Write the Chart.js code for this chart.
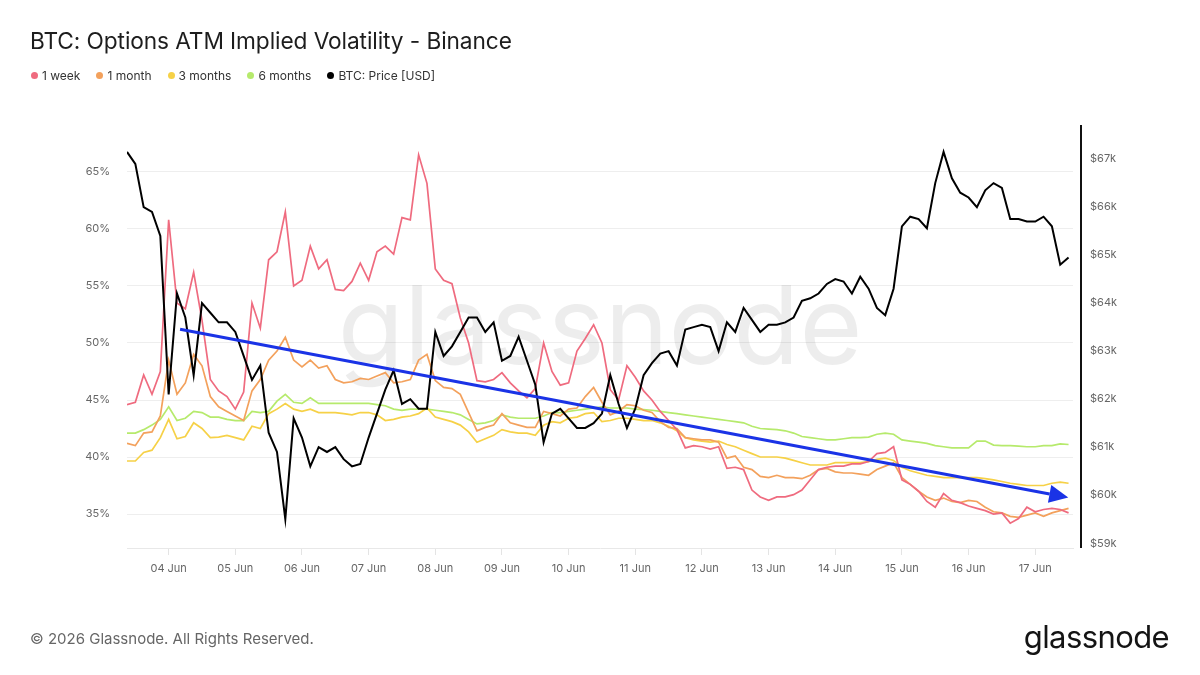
<!DOCTYPE html>
<html>
<head>
<meta charset="utf-8">
<script src="https://cdn.jsdelivr.net/npm/chart.js@4.4.1/dist/chart.umd.min.js"></script>
<style>
  html, body { margin: 0; padding: 0; background: #fff; }
  body { width: 1200px; height: 675px; position: relative; overflow: hidden; font-family: Inter, "Noto Sans", sans-serif; }
  #wrap { position: absolute; left: 0; top: 0; width: 1200px; height: 675px; }
  #title { position: absolute; left: 30px; top: 27px; font-size: 22.7px; color: #1d1d1d; font-weight: 400; letter-spacing: -0.1px; }
  #legend { position: absolute; left: 31px; top: 68px; font-size: 12px; color: #333; display: flex; }
  #legend .item { display: flex; align-items: center; margin-right: 16px; }
  #legend .dot { width: 7px; height: 7px; border-radius: 50%; margin-right: 4px; }
  #footer { position: absolute; left: 30px; top: 629px; font-size: 15px; color: #666; }
  #logo { position: absolute; right: 31px; top: 618px; font-size: 31px; color: #141414; letter-spacing: -0.6px; }
</style>
</head>
<body>
<div id="wrap"><canvas id="c" width="1200" height="675"></canvas></div>
<div id="title">BTC: Options ATM Implied Volatility - Binance</div>
<div id="legend"></div>
<div id="footer">© 2026 Glassnode. All Rights Reserved.</div>
<div id="logo">glassnode</div>
<script>
// ---- time grid (3-hourly, hours relative to 04 Jun 00:00 UTC) ----
const timeStartHour = -15;
const timeStepHours = 3;

// ---- axis ticks ----
const xTickHours = [0, 24, 48, 72, 96, 120, 144, 168, 192, 216, 240, 264, 288, 312];
const xTickLabels = ['04 Jun','05 Jun','06 Jun','07 Jun','08 Jun','09 Jun','10 Jun','11 Jun','12 Jun','13 Jun','14 Jun','15 Jun','16 Jun','17 Jun'];
const ivTicks = [35, 40, 45, 50, 55, 60, 65];
const priceTicks = [59, 60, 61, 62, 63, 64, 65, 66, 67];

// ---- series names ----
const seriesNames = ['1 week', '1 month', '3 months', '6 months', 'BTC: Price [USD]'];

// ---- BTC price ($k) ----
const btcPrice = [
  67.15, 66.9, 66.0, 65.9, 65.4, 62.1, 64.2, 63.7, 62.5, 64.0,
  63.8, 63.6, 63.6, 63.4, 62.9, 62.4, 62.7, 61.3, 60.9, 59.5,
  61.6, 61.2, 60.6, 61.0, 60.9, 61.0, 60.75, 60.6, 60.65, 61.2,
  61.7, 62.2, 62.6, 61.9, 62.0, 61.8, 61.8, 63.4, 62.9, 63.1,
  63.4, 63.7, 63.7, 63.4, 63.6, 62.8, 62.9, 63.3, 62.8, 62.3,
  61.1, 61.7, 61.8, 61.6, 61.4, 61.4, 61.5, 61.7, 62.5, 61.9,
  61.4, 61.8, 62.5, 62.75, 62.95, 63.0, 62.7, 63.45, 63.5, 63.55,
  63.5, 63.0, 63.6, 63.4, 63.9, 63.65, 63.4, 63.55, 63.55, 63.6,
  63.7, 64.05, 64.1, 64.2, 64.4, 64.5, 64.45, 64.2, 64.55, 64.3,
  63.9, 63.75, 64.3, 65.6, 65.8, 65.75, 65.56, 66.5, 67.15, 66.6,
  66.3, 66.2, 66.0, 66.35, 66.5, 66.4, 65.75, 65.75, 65.7, 65.7,
  65.8, 65.6, 64.8, 64.95
];

// ---- ATM implied volatility (%) ----
const iv1w = [
  44.6, 44.8, 47.2, 45.5, 47.5, 60.8, 53.5, 53.0, 56.2, 52.0,
  46.8, 45.8, 45.3, 44.2, 45.7, 53.5, 51.3, 57.3, 58.0, 61.5,
  55.0, 55.5, 58.5, 56.5, 57.3, 54.7, 54.6, 55.4, 57.0, 55.5,
  58.0, 58.5, 57.8, 61.0, 60.8, 66.5, 64.0, 56.5, 55.5, 55.2,
  52.2, 50.0, 46.7, 46.6, 46.8, 47.4, 46.5, 45.8, 45.2, 46.0,
  50.0, 47.5, 46.3, 46.5, 49.3, 50.4, 51.6, 50.0, 45.9, 45.0,
  48.0, 47.0, 45.8, 45.0, 44.0, 43.2, 42.4, 40.8, 41.0, 40.9,
  40.7, 40.9, 39.0, 39.1, 38.9, 37.1, 36.5, 36.2, 36.5, 36.5,
  36.7, 37.1, 38.0, 38.9, 39.1, 39.2, 39.2, 39.4, 39.4, 39.6,
  40.3, 40.4, 40.9, 38.0, 37.6, 37.0, 36.1, 35.6, 36.8, 36.2,
  36.0, 35.7, 35.5, 35.3, 35.0, 35.1, 34.2, 34.6, 35.6, 35.2,
  35.4, 35.5, 35.4, 35.1
];
const iv1m = [
  41.2, 41.0, 42.1, 42.2, 43.6, 48.5, 45.5, 46.5, 49.0, 48.0,
  45.3, 44.4, 44.0, 43.6, 43.2, 45.8, 46.8, 48.5, 49.3, 50.5,
  48.5, 47.9, 48.5, 47.8, 48.0, 46.8, 46.5, 46.6, 46.9, 46.8,
  47.1, 47.4, 46.5, 46.6, 46.8, 48.5, 49.0, 46.7, 46.1, 46.0,
  45.5, 43.9, 42.3, 42.6, 42.8, 43.8, 43.0, 42.8, 42.6, 42.6,
  44.0, 43.8, 43.6, 44.2, 44.3, 45.3, 46.1, 44.8, 43.7, 44.0,
  44.6, 44.5, 44.1, 43.9, 43.1, 42.6, 42.5, 41.7, 41.6, 41.5,
  41.5, 41.3, 39.9, 40.1, 39.1, 38.9, 38.3, 38.2, 38.4, 38.2,
  38.2, 38.1, 38.4, 38.9, 39.0, 38.7, 38.6, 38.6, 38.5, 38.4,
  38.9, 39.2, 39.5, 38.2, 37.6, 37.0, 36.5, 36.2, 36.4, 36.1,
  36.0, 36.2, 36.1, 35.6, 35.2, 35.1, 34.8, 34.7, 34.9, 35.1,
  34.8, 35.1, 35.3, 35.5
];
const iv3m = [
  39.65, 39.65, 40.4, 40.6, 41.7, 43.3, 41.6, 41.8, 43.0, 42.5,
  41.7, 41.75, 41.9, 41.7, 41.5, 42.7, 42.5, 43.8, 44.2, 44.7,
  44.2, 44.0, 44.2, 43.9, 43.9, 43.9, 43.8, 43.7, 43.9, 43.9,
  43.7, 43.2, 43.3, 43.5, 43.6, 43.8, 44.3, 43.5, 43.3, 43.1,
  42.8, 42.2, 41.3, 41.6, 41.9, 42.4, 42.2, 42.1, 42.1, 41.9,
  42.8, 43.1, 43.0, 43.4, 43.5, 43.8, 43.9, 43.1, 43.2, 43.4,
  43.4, 43.3, 43.2, 43.2, 43.0, 42.7, 42.3, 41.7, 41.5, 41.4,
  41.3, 41.4, 41.1, 40.9, 40.6, 40.3, 40.0, 40.0, 40.0, 39.9,
  39.7, 39.5, 39.3, 39.3, 39.3, 39.5, 39.5, 39.5, 39.5, 39.6,
  39.8, 39.9, 39.7, 39.1, 38.8, 38.6, 38.4, 38.3, 38.2, 38.2,
  38.2, 38.2, 38.2, 38.1, 38.0, 37.85, 37.7, 37.6, 37.5, 37.5,
  37.5, 37.7, 37.8, 37.7
];
const iv6m = [
  42.1, 42.1, 42.4, 42.8, 43.3, 44.4, 43.2, 43.4, 44.0, 43.9,
  43.5, 43.5, 43.3, 43.2, 43.2, 44.0, 43.9, 44.0, 44.9, 45.5,
  44.8, 44.7, 45.2, 44.7, 44.7, 44.7, 44.7, 44.7, 44.7, 44.7,
  44.6, 44.5, 44.2, 44.1, 44.2, 44.2, 44.2, 44.1, 44.0, 43.9,
  43.7, 43.3, 42.9, 43.0, 43.2, 43.7, 43.5, 43.4, 43.4, 43.4,
  43.6, 43.9, 43.9, 44.0, 44.1, 44.2, 44.3, 44.4, 44.3, 44.3,
  44.3, 44.2, 44.15, 44.1, 44.0, 43.9, 43.8, 43.7, 43.6, 43.5,
  43.4, 43.3, 43.2, 43.1, 43.0, 42.7, 42.5, 42.45, 42.4, 42.3,
  42.1, 41.8, 41.7, 41.6, 41.5, 41.5, 41.6, 41.7, 41.7, 41.75,
  42.0, 42.1, 42.0, 41.5, 41.4, 41.3, 41.2, 41.0, 40.9, 40.8,
  40.8, 40.8, 41.4, 41.4, 41.05, 41.0, 41.0, 40.95, 40.9, 40.9,
  41.0, 41.0, 41.15, 41.1
];

// ---- annotated downtrend arrow (hour, IV %) ----
const trendStart = [4.1, 51.2];
const trendEnd = [323.9, 36.45];

const colors = ['#ef6b7f', '#f3a15c', '#f6d147', '#b6ea6c', '#000000'];

// legend (html)
const legendEl = document.getElementById('legend');
seriesNames.forEach((n, i) => {
  const it = document.createElement('div'); it.className = 'item';
  const d = document.createElement('span'); d.className = 'dot'; d.style.background = colors[i];
  const t = document.createElement('span'); t.textContent = n;
  it.appendChild(d); it.appendChild(t); legendEl.appendChild(it);
});

const toXY = arr => arr.map((v, i) => ({ x: timeStartHour + i * timeStepHours, y: v }));

const FONT = 'Inter, "Noto Sans", sans-serif';

const decorPlugin = {
  id: 'decor',
  beforeDatasetsDraw(chart) {
    const { ctx, chartArea } = chart;
    ctx.save();
    ctx.font = '400 108px ' + FONT;
    ctx.fillStyle = 'rgba(0,0,0,0.07)';
    ctx.textAlign = 'center';
    ctx.textBaseline = 'alphabetic';
    ctx.fillText('glassnode', (chartArea.left + chartArea.right) / 2, 364);
    ctx.restore();
  },
  afterDatasetsDraw(chart) {
    const { ctx, chartArea, scales } = chart;
    const x0 = scales.x.getPixelForValue(trendStart[0]);
    const y0 = scales.y.getPixelForValue(trendStart[1]);
    const x1 = scales.x.getPixelForValue(trendEnd[0]);
    const y1 = scales.y.getPixelForValue(trendEnd[1]);
    const ang = Math.atan2(y1 - y0, x1 - x0);
    const headLen = 19, headHalf = 9;
    const bx = x1 - headLen * Math.cos(ang), by = y1 - headLen * Math.sin(ang);
    ctx.save();
    ctx.strokeStyle = '#1a33e6';
    ctx.fillStyle = '#1a33e6';
    ctx.lineWidth = 3;
    ctx.beginPath(); ctx.moveTo(x0, y0); ctx.lineTo(bx, by); ctx.stroke();
    ctx.beginPath();
    ctx.moveTo(x1, y1);
    ctx.lineTo(bx + headHalf * Math.sin(ang), by - headHalf * Math.cos(ang));
    ctx.lineTo(bx - headHalf * Math.sin(ang), by + headHalf * Math.cos(ang));
    ctx.closePath(); ctx.fill();
    // right axis line
    ctx.strokeStyle = '#111';
    ctx.lineWidth = 2;
    ctx.beginPath();
    ctx.moveTo(chartArea.right + 8, chartArea.top);
    ctx.lineTo(chartArea.right + 8, chartArea.bottom);
    ctx.stroke();
    ctx.restore();
  }
};

new Chart(document.getElementById('c'), {
  type: 'line',
  data: {
    datasets: [
      { label: seriesNames[4], data: toXY(btcPrice), borderColor: colors[4], borderWidth: 2, yAxisID: 'y1', order: 0 },
      { label: seriesNames[0], data: toXY(iv1w), borderColor: colors[0], borderWidth: 1.7, yAxisID: 'y', order: 1 },
      { label: seriesNames[1], data: toXY(iv1m), borderColor: colors[1], borderWidth: 1.7, yAxisID: 'y', order: 2 },
      { label: seriesNames[2], data: toXY(iv3m), borderColor: colors[2], borderWidth: 1.7, yAxisID: 'y', order: 3 },
      { label: seriesNames[3], data: toXY(iv6m), borderColor: colors[3], borderWidth: 1.7, yAxisID: 'y', order: 4 }
    ]
  },
  options: {
    responsive: false,
    animation: false,
    layout: { padding: { top: 125, left: 0, right: 0, bottom: 0 } },
    elements: { point: { radius: 0 }, line: { tension: 0, fill: false } },
    plugins: { legend: { display: false }, tooltip: { enabled: false } },
    scales: {
      x: {
        type: 'linear', min: -15, max: 325.6,
        afterFit(s) { s.height = 127; },
        afterBuildTicks(s) { s.ticks = xTickHours.map(v => ({ value: v })); },
        grid: { drawOnChartArea: false, drawTicks: true, tickLength: 7, color: '#e4e4e4' },
        border: { display: true, color: '#e8e8e8' },
        ticks: { autoSkip: false, maxRotation: 0, padding: 7, color: '#666', font: { family: FONT, size: 11 },
          callback: (v, i) => xTickLabels[i] }
      },
      y: {
        position: 'left', min: 32.02, max: 69.12,
        afterFit(s) { s.width = 127; },
        afterBuildTicks(s) { s.ticks = ivTicks.map(v => ({ value: v })); },
        grid: { color: '#eeeeee', drawTicks: false },
        border: { display: false },
        ticks: { padding: 17, color: '#666', font: { family: FONT, size: 11 }, callback: v => v + '%' }
      },
      y1: {
        position: 'right', min: 58.9, max: 67.71,
        afterFit(s) { s.width = 127; },
        afterBuildTicks(s) { s.ticks = priceTicks.map(v => ({ value: v })); },
        grid: { drawOnChartArea: false, drawTicks: false },
        border: { display: false },
        ticks: { padding: 17, color: '#666', font: { family: FONT, size: 11 }, callback: v => '$' + v + 'k' }
      }
    }
  },
  plugins: [decorPlugin]
});
</script>
</body>
</html>
